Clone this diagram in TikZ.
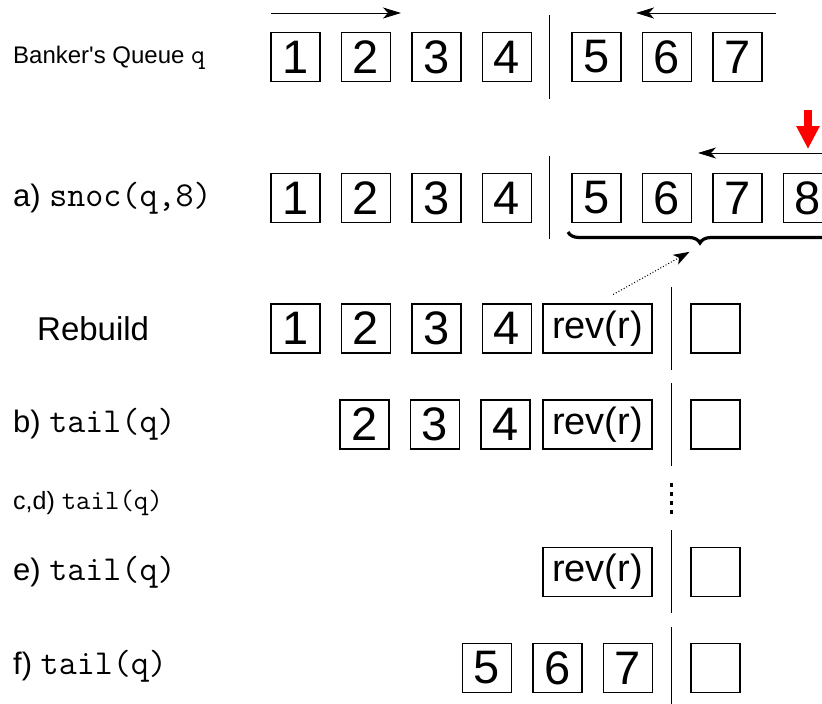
\documentclass[tikz,border=0pt]{standalone}
\usepackage{fontspec}
\setmainfont{Liberation Sans}
\usetikzlibrary{positioning, arrows.meta, decorations.pathreplacing}
\definecolor{markRed}{HTML}{FF0000}
\newcommand{\fs}[1]{\fontsize{#1}{#1}\selectfont}
\newcommand{\code}[2]{{\fs{#1}\ttfamily #2}}

\begin{document}
\begin{tikzpicture}[x=1pt, y=-1pt,
  cell/.style={draw, line width=1.5pt, minimum width=49pt, minimum height=49pt, inner sep=0pt, font=\fs{47}},
  revcell/.style={cell, minimum width=109pt, font=\fs{38}},
  lbl/.style={anchor=west, inner sep=0pt, font=\fs{31}},
  divider/.style={line width=1pt},
  flow/.style={line width=1pt, -{Stealth[length=18pt, width=11pt, inset=5pt]}}]
\useasboundingbox (0,0) rectangle (822,704);
% Banker's queue q
\node[lbl, font=\fs{24}] (lq) at (13,58) {Banker\textquotesingle s Queue \code{27}{q}};
\node[cell] (q1) at (295.5,57) {1};
\node[cell, right=20pt of q1] (q2) {2};
\node[cell, right=20pt of q2] (q3) {3};
\node[cell, right=20pt of q3] (q4) {4};
\node[cell] (q5) at (596.5,57) {5};
\node[cell, right=20pt of q5] (q6) {6};
\node[cell, right=20pt of q6] (q7) {7};
\draw[divider] (549,15) -- (549,99);
\coordinate (fs) at (271,13); \coordinate (fe) at (401,13);
\coordinate (rs) at (776,13); \coordinate (re) at (636,13);
\draw[flow] (fs) -- (fe);
\draw[flow] (rs) -- (re);
% a) snoc
\node[lbl] (la) at (13,198) {a) \code{35}{snoc(q,8)}};
\node[cell] (a1) at (295.5,198) {1};
\node[cell, right=20pt of a1] (a2) {2};
\node[cell, right=20pt of a2] (a3) {3};
\node[cell, right=20pt of a3] (a4) {4};
\node[cell] (a5) at (596.5,198) {5};
\node[cell, right=20pt of a5] (a6) {6};
\node[cell, right=20pt of a6] (a7) {7};
\node[cell, right=20pt of a7] (a8) {8};
\draw[divider] (549,156) -- (549,239);
\coordinate (ras) at (845,153); \coordinate (rae) at (698,153);
\draw[flow] (ras) -- (rae);
\coordinate (push) at (a8.north |- 0,110);
\draw[markRed, line width=8pt, -{Triangle[length=23pt, width=22pt]}] (push) -- ++(0,39);
\coordinate (brs) at (568,232); \coordinate (bre) at (832,232); \coordinate (brtip) at (700,246);
\draw[decorate, decoration={brace, mirror, amplitude=11pt}, line width=3.2pt] (brs) -- (bre);
% rebuild
\node[lbl, font=\fs{33}] (lrb) at (37,329) {Rebuild};
\node[cell] (rb1) at (295.5,328.5) {1};
\node[cell, right=20pt of rb1] (rb2) {2};
\node[cell, right=20pt of rb2] (rb3) {3};
\node[cell, right=20pt of rb3] (rb4) {4};
\node[revcell] (rbrev) at (597.5,328.5) {rev(r)};
\node[cell] (rbnil) at (715.5,328.5) {};
\draw[divider] (671,287) -- (671,370);
\draw[dotted, line width=1pt, -{Stealth[length=16pt, width=11pt, inset=4pt]}, shorten <=18pt, shorten >=12pt] (rbrev.north) -- (brtip);
% b) tail
\node[lbl] (lb) at (13,424.5) {b) \code{35}{tail(q)}};
\node[cell] (b2) at (364.5,424.5) {2};
\node[cell, right=20pt of b2] (b3) {3};
\node[cell, right=20pt of b3] (b4) {4};
\node[revcell] (brev) at (597.5,424.5) {rev(r)};
\node[cell] (bnil) at (715.5,424.5) {};
\draw[divider] (671,383) -- (671,466);
% c,d) tail
\node[lbl, font=\fs{25}] (lcd) at (13,503) {c,d) \code{28}{tail(q)}};
\draw[line width=3pt, dash pattern=on 4pt off 5pt] (671,483) -- (671,516);
% e) tail
\node[lbl] (le) at (13,572) {e) \code{35}{tail(q)}};
\node[revcell] (erev) at (597.5,572) {rev(r)};
\node[cell] (enil) at (715.5,572) {};
\draw[divider] (671,530) -- (671,613);
% f) tail
\node[lbl] (lf) at (13,666) {f) \code{35}{tail(q)}};
\node[cell] (f5) at (487,668) {5};
\node[cell, right=20pt of f5] (f6) {6};
\node[cell, right=20pt of f6] (f7) {7};
\node[cell] (fnil) at (715.5,668) {};
\draw[divider] (671,627) -- (671,712);
\end{tikzpicture}
\end{document}
